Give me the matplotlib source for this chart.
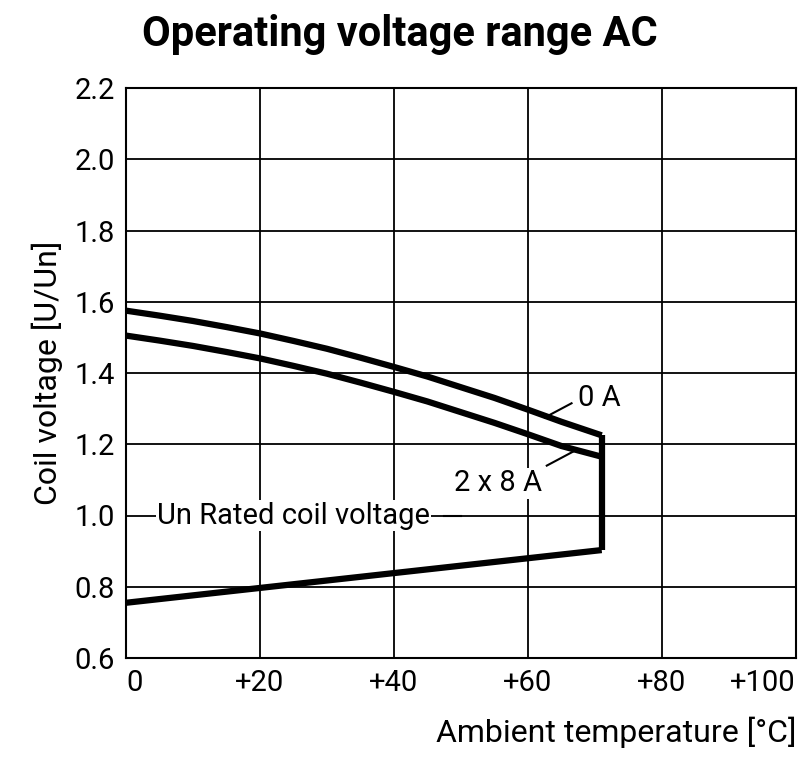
import matplotlib
matplotlib.use("Agg")
import matplotlib.pyplot as plt

plt.rcParams['font.family'] = ['Roboto', 'DejaVu Sans']

x_0A = [0, 5, 10, 15, 20, 25, 30, 35, 40, 45, 50, 55, 60, 65, 71]
y_0A = [1.575, 1.561, 1.546, 1.529, 1.511, 1.49, 1.468, 1.443, 1.417, 1.39, 1.36, 1.33, 1.297, 1.263, 1.225]
x_16A = [0, 5, 10, 15, 20, 25, 30, 35, 40, 45, 50, 55, 60, 65, 71]
y_16A = [1.505, 1.491, 1.476, 1.459, 1.441, 1.42, 1.398, 1.373, 1.347, 1.32, 1.29, 1.26, 1.228, 1.195, 1.165]
x_low = [0, 71]
y_low = [0.755, 0.903]
x_ticks = [0, 20, 40, 60, 80, 100]
x_labels = ['0', '+20', '+40', '+60', '+80', '+100']
y_ticks = [0.6, 0.8, 1.0, 1.2, 1.4, 1.6, 1.8, 2.0, 2.2]

fig = plt.figure(figsize=(8, 7.63), dpi=100)
ax = fig.add_axes([126/800, 105/763, 670/800, 570/763])
ax.set_xlim(0, 100)
ax.set_ylim(0.6, 2.2)
ax.set_xticks(x_ticks)
ax.set_xticklabels(x_labels)
ax.set_yticks(y_ticks)
ax.set_yticklabels([f'{v:.1f}' for v in y_ticks])
ax.grid(True, color='black', lw=1.3)
for s in ax.spines.values():
    s.set_linewidth(1.5)
ax.tick_params(length=0, labelsize=21, pad=8)
ax.get_xticklabels()[-1].set_horizontalalignment('right')
ax.get_xticklabels()[0].set_horizontalalignment('left')

lw = 4.5
ax.plot(x_0A, y_0A, color='black', lw=lw, solid_capstyle='butt')
ax.plot(x_16A, y_16A, color='black', lw=lw, solid_capstyle='butt')
ax.plot(x_low, y_low, color='black', lw=lw, solid_capstyle='butt')
ax.plot([71, 71], [y_low[-1], y_0A[-1]], color='black', lw=lw, solid_capstyle='butt')

bb = dict(facecolor='white', edgecolor='none', pad=1)
ax.plot([62.5, 66.5], [1.275, 1.315], color='black', lw=1.5)
ax.text(67.5, 1.33, '0 A', fontsize=21, va='center', ha='left', bbox=bb)
ax.plot([62.8, 66.8], [1.14, 1.18], color='black', lw=1.5)
ax.text(55.5, 1.09, '2 x 8 A', fontsize=21, va='center', ha='center', bbox=bb)
ax.text(25, 1.0, 'Un Rated coil voltage', fontsize=21, va='center', ha='center', bbox=bb)
ax.plot([47.5, 50], [1.0, 1.0], color='black', lw=1.5)

ax.set_ylabel('Coil voltage [U/Un]', fontsize=23, labelpad=8)
ax.set_xlabel('Ambient temperature [°C]', fontsize=23, loc='right', labelpad=14)
fig.text(0.5, 0.955, 'Operating voltage range AC', fontsize=30, fontweight='bold',
         ha='center', va='center')
fig.savefig('out.png', dpi=100)
